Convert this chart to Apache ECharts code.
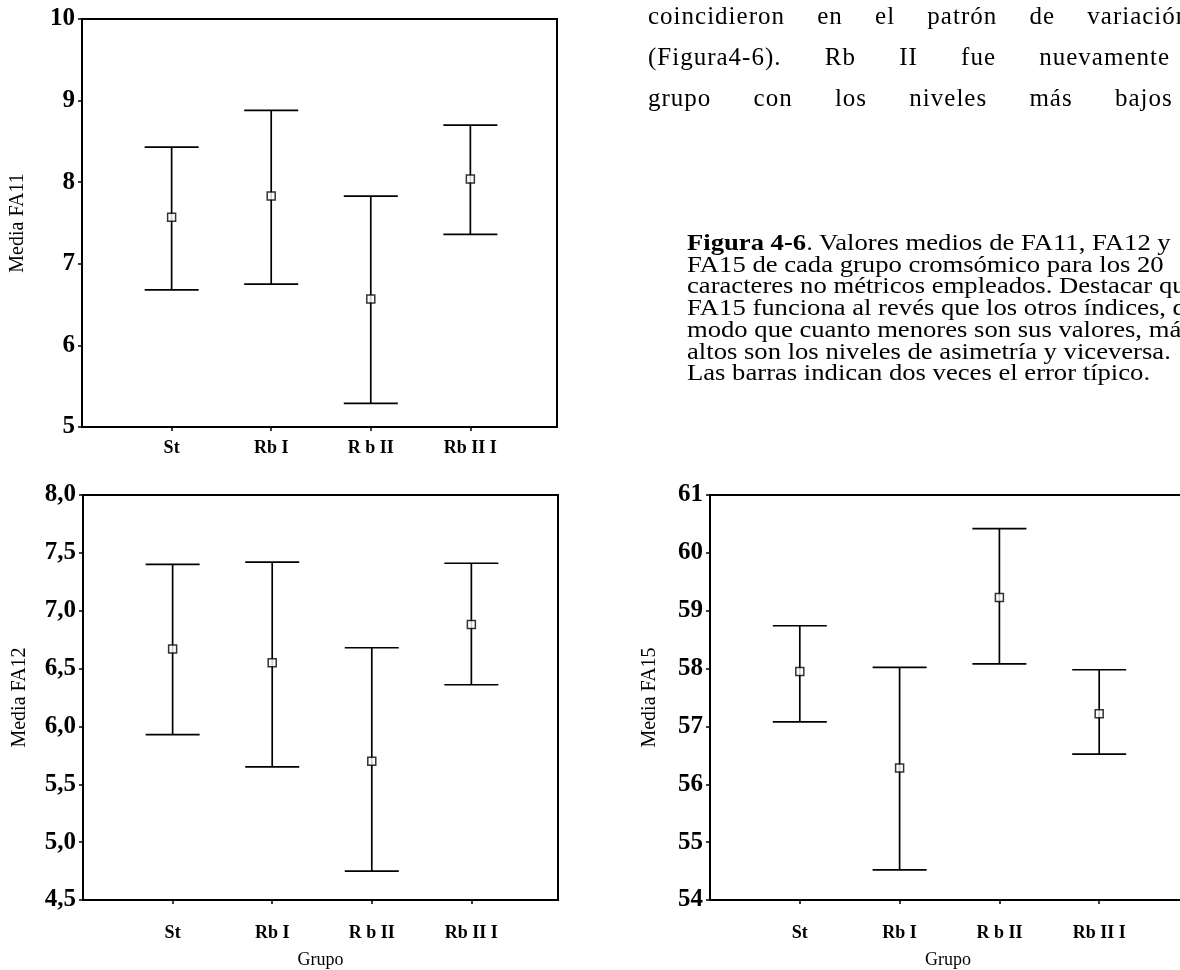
<!DOCTYPE html>
<html>
<head>
<meta charset="utf-8">
<script src="https://cdn.jsdelivr.net/npm/echarts@6/dist/echarts.min.js"></script>
<style>
  html, body { margin: 0; padding: 0; background: #fff; overflow: hidden; width: 1180px; height: 970px; }
  #chart { position: absolute; left: 0; top: 0; width: 1190px; height: 970px; }
  .txt { position: absolute; font-family: "Liberation Serif", "DejaVu Serif", serif; color: #000; white-space: nowrap; }
  .para { left: 648px; font-size: 25px; letter-spacing: 1px; }
  .cap { left: 687px; font-size: 24px; line-height: 21.7px; transform: scaleX(1.11); transform-origin: 0 0; }
</style>
</head>
<body>
<div id="chart"></div>
<div class="txt para" style="top:2px; word-spacing:25px">coincidieron en el patrón de variación</div>
<div class="txt para" style="top:43px; word-spacing:36px">(Figura4-6). Rb II fue nuevamente el</div>
<div class="txt para" style="top:84px; word-spacing:35px">grupo con los niveles más bajos de</div>
<div class="txt cap" style="top:232px">
  <b>Figura 4-6</b>. Valores medios de FA11, FA12 y<br>
  FA15 de cada grupo cromsómico para los 20<br>
  caracteres no métricos empleados. Destacar que<br>
  FA15 funciona al revés que los otros índices, de<br>
  modo que cuanto menores son sus valores, más<br>
  altos son los niveles de asimetría y viceversa.<br>
  Las barras indican dos veces el error típico.
</div>
<script>
// grupos cromosómicos
const groups = ['St', 'Rb I', 'R b II', 'Rb II I'];

// FA11: media y límites (± 2 error típico)
const fa11Mean = [7.57, 7.83, 6.57, 8.04];
const fa11Low  = [6.68, 6.75, 5.29, 7.36];
const fa11High = [8.43, 8.88, 7.83, 8.70];

// FA12
const fa12Mean = [6.67, 6.55, 5.70, 6.88];
const fa12Low  = [5.93, 5.65, 4.75, 6.36];
const fa12High = [7.40, 7.42, 6.68, 7.41];

// FA15
const fa15Mean = [57.95, 56.28, 59.23, 57.22];
const fa15Low  = [57.08, 54.52, 58.08, 56.52];
const fa15High = [58.74, 58.02, 60.42, 57.98];

const serif = '"Liberation Serif", "DejaVu Serif", serif';

// barra de error: línea vertical + dos topes
function errRender(params, api) {
    const x = api.value(0);
    const pHi = api.coord([x, api.value(2)]);
    const pLo = api.coord([x, api.value(1)]);
    const hw = 27;
    const style = { stroke: '#000', lineWidth: 1.7 };
    return {
        type: 'group',
        children: [
            { type: 'line', shape: { x1: pHi[0], y1: pHi[1], x2: pLo[0], y2: pLo[1] }, style: style },
            { type: 'line', shape: { x1: pHi[0] - hw, y1: pHi[1], x2: pHi[0] + hw, y2: pHi[1] }, style: style },
            { type: 'line', shape: { x1: pLo[0] - hw, y1: pLo[1], x2: pLo[0] + hw, y2: pLo[1] }, style: style }
        ]
    };
}

function xAxisFor(idx, withName, labelGap) {
    return {
        type: 'value', gridIndex: idx, min: -0.9, max: 3.87,
        splitLine: { show: false },
        axisLine: { onZero: false, lineStyle: { color: '#000', width: 2 } },
        axisTick: { customValues: [0, 1, 2, 3], length: 4, lineStyle: { color: '#000', width: 1.5 } },
        axisLabel: {
            customValues: [0, 1, 2, 3], margin: labelGap, color: '#000',
            fontFamily: serif, fontSize: 18, fontWeight: 'bold',
            formatter: v => groups[Math.round(v)]
        },
        name: withName ? 'Grupo' : '', nameLocation: 'middle', nameGap: 51,
        nameTextStyle: { color: '#000', fontFamily: serif, fontSize: 18 }
    };
}

function yAxisFor(idx, min, max, step, name, gap, comma) {
    return {
        type: 'value', gridIndex: idx, min: min, max: max, interval: step,
        splitLine: { show: false },
        axisLine: { onZero: false, lineStyle: { color: '#000', width: 2 } },
        axisTick: { length: 4, lineStyle: { color: '#000', width: 1.5 } },
        axisLabel: {
            margin: 7, color: '#000', fontFamily: serif, fontSize: 25, fontWeight: 'bold',
            formatter: v => comma ? v.toFixed(1).replace('.', ',') : String(v)
        },
        name: name, nameLocation: 'middle', nameGap: gap,
        nameTextStyle: { color: '#000', fontFamily: serif, fontSize: 20 }
    };
}

function errData(low, high) {
    return low.map((lo, i) => [i, lo, high[i]]);
}
function meanData(mean) {
    return mean.map((m, i) => [i, m]);
}

function pairSeries(idx, mean, low, high) {
    return [
        {
            type: 'custom', xAxisIndex: idx, yAxisIndex: idx,
            renderItem: errRender, encode: { x: 0, y: [1, 2] },
            data: errData(low, high), silent: true, z: 2
        },
        {
            type: 'scatter', xAxisIndex: idx, yAxisIndex: idx,
            symbol: 'rect', symbolSize: 8,
            itemStyle: { color: '#fff', borderColor: '#000', borderWidth: 1.5 },
            data: meanData(mean), silent: true, z: 3
        }
    ];
}

const gridStyle = { show: true, borderColor: '#000', borderWidth: 2, backgroundColor: 'transparent' };

let myChart = echarts.init(document.getElementById('chart'));
myChart.setOption({
    animation: false,
    grid: [
        Object.assign({ left: 82, top: 19, width: 475, height: 408 }, gridStyle),
        Object.assign({ left: 83, top: 495, width: 475, height: 407 }, gridStyle),
        Object.assign({ left: 710, top: 495, width: 476, height: 405 }, gridStyle)
    ],
    xAxis: [xAxisFor(0, false, 12), xAxisFor(1, true, 24), xAxisFor(2, true, 24)],
    yAxis: [
        yAxisFor(0, 5, 10, 1, 'Media FA11', 54, false),
        yAxisFor(1, 4.5, 8, 0.5, 'Media FA12', 53, true),
        yAxisFor(2, 54, 61, 1, 'Media FA15', 50, false)
    ],
    series: [].concat(
        pairSeries(0, fa11Mean, fa11Low, fa11High),
        pairSeries(1, fa12Mean, fa12Low, fa12High),
        pairSeries(2, fa15Mean, fa15Low, fa15High)
    )
});
</script>
</body>
</html>
